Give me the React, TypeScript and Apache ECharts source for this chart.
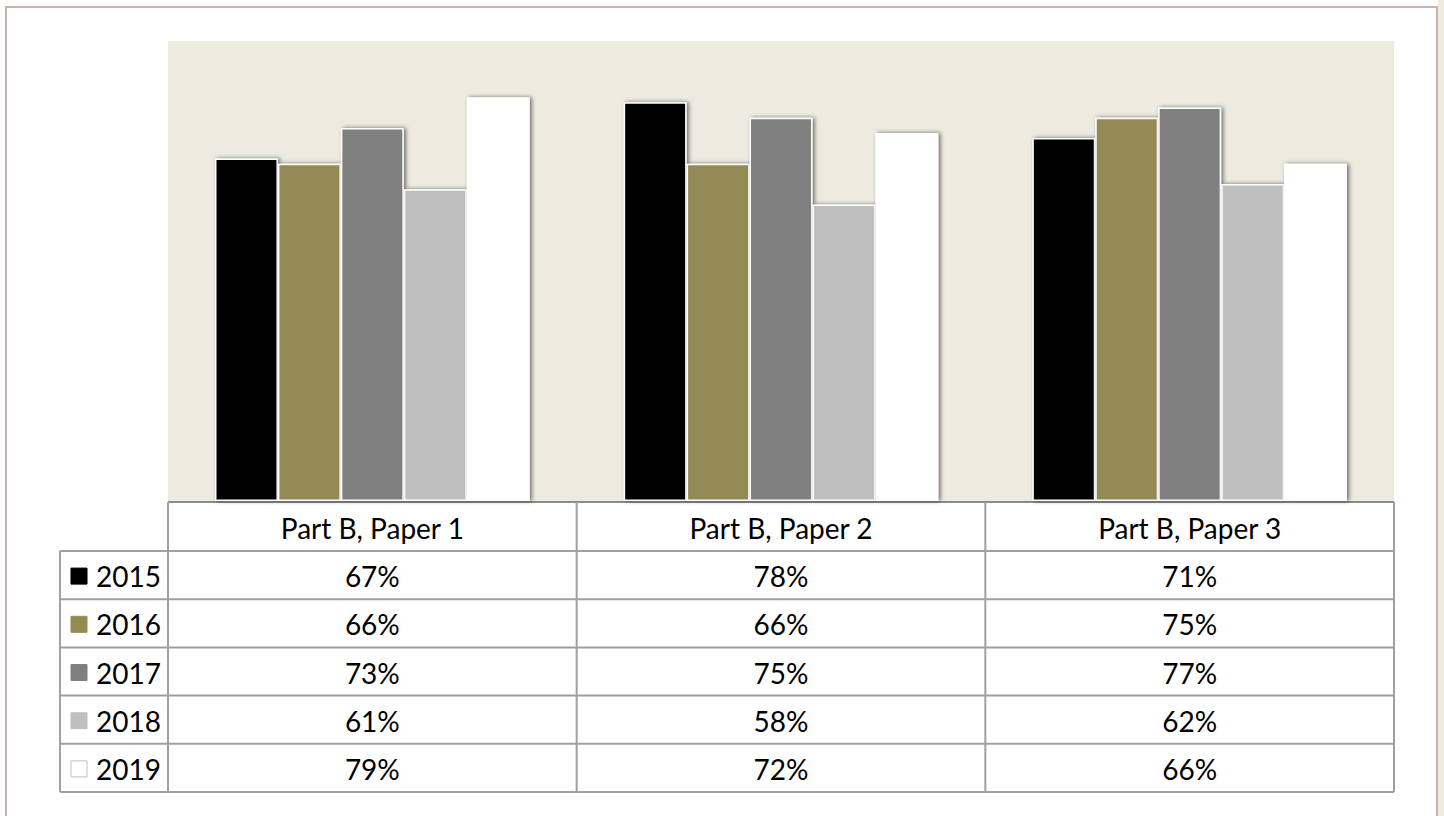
import React, { useEffect, useRef } from "react";
import * as echarts from "echarts";

const categories = ["Part B, Paper 1", "Part B, Paper 2", "Part B, Paper 3"];
const years = ["2015", "2016", "2017", "2018", "2019"];
const seriesColors = ["#000000", "#948A54", "#808080", "#BFBFBF", "#FFFFFF"];
const values2015 = [67, 78, 71];
const values2016 = [66, 66, 75];
const values2017 = [73, 75, 77];
const values2018 = [61, 58, 62];
const values2019 = [79, 72, 66];
const allValues = [values2015, values2016, values2017, values2018, values2019];

const W = 1444;
const H = 816;
const GRID_LEFT = 168;
const GRID_RIGHT = 1394;
const GRID_TOP = 41;
const GRID_BOTTOM = 501;
const TABLE_TOP = 502;
const HEADER_H = 49;
const ROW_H = 48.2;
const KEY_LEFT = 60;
const FONT = "Lato, 'Noto Sans', sans-serif";
const FS = 28;
const LINE_COLOR = "#A0A0A0";

export default function App() {
  const ref = useRef<HTMLDivElement>(null);
  useEffect(() => {
    if (!ref.current) return;
    const chart = echarts.init(ref.current, undefined, { renderer: "svg" });
    const colW = (GRID_RIGHT - GRID_LEFT) / categories.length;
    const tableBottom = TABLE_TOP + HEADER_H + ROW_H * years.length;
    const graphics: any[] = [];
    // outer frame
    graphics.push({ type: "rect", shape: { x: 1438, y: 0, width: 6, height: H }, style: { fill: "#EEEBE1" }, silent: true });
    graphics.push({ type: "line", shape: { x1: 6, y1: 7, x2: 1437, y2: 7 }, style: { stroke: "#CDB1B1", lineWidth: 2 } });
    graphics.push({ type: "line", shape: { x1: 6, y1: 6, x2: 6, y2: H }, style: { stroke: "#CDB1B1", lineWidth: 2 } });
    graphics.push({ type: "line", shape: { x1: 1437, y1: 6, x2: 1437, y2: H }, style: { stroke: "#CDB1B1", lineWidth: 2 } });
    // table horizontal lines
    graphics.push({ type: "line", shape: { x1: GRID_LEFT, y1: TABLE_TOP, x2: GRID_RIGHT, y2: TABLE_TOP }, style: { stroke: "#8C8C8C", lineWidth: 2 } });
    for (let r = 0; r <= years.length; r++) {
      const y = TABLE_TOP + HEADER_H + r * ROW_H;
      graphics.push({ type: "line", shape: { x1: KEY_LEFT, y1: y, x2: GRID_RIGHT, y2: y }, style: { stroke: LINE_COLOR, lineWidth: 2 } });
    }
    // vertical lines
    graphics.push({ type: "line", shape: { x1: KEY_LEFT, y1: TABLE_TOP + HEADER_H, x2: KEY_LEFT, y2: tableBottom }, style: { stroke: LINE_COLOR, lineWidth: 2 } });
    for (let c = 0; c <= categories.length; c++) {
      const x = GRID_LEFT + c * colW;
      graphics.push({ type: "line", shape: { x1: x, y1: TABLE_TOP, x2: x, y2: tableBottom }, style: { stroke: LINE_COLOR, lineWidth: 2 } });
    }
    // header texts
    categories.forEach((cat, c) => {
      graphics.push({
        type: "text",
        x: GRID_LEFT + (c + 0.5) * colW,
        y: TABLE_TOP + HEADER_H / 2 + 1,
        style: { text: cat, fill: "#000", font: `${FS}px ${FONT}`, align: "center", verticalAlign: "middle" },
      });
    });
    // rows
    years.forEach((yr, r) => {
      const cy = TABLE_TOP + HEADER_H + (r + 0.5) * ROW_H + 1;
      graphics.push({
        type: "rect",
        shape: { x: 71, y: cy - 8, width: 16, height: 16 },
        style: { fill: seriesColors[r], stroke: r === 4 ? "#BFBFBF" : seriesColors[r], lineWidth: 1 },
      });
      graphics.push({
        type: "text",
        x: 96,
        y: cy,
        style: { text: yr, fill: "#000", font: `${FS}px ${FONT}`, align: "left", verticalAlign: "middle" },
      });
      categories.forEach((_, c) => {
        graphics.push({
          type: "text",
          x: GRID_LEFT + (c + 0.5) * colW,
          y: cy,
          style: { text: `${allValues[r][c]}%`, fill: "#000", font: `${FS}px ${FONT}`, align: "center", verticalAlign: "middle" },
        });
      });
    });

    chart.setOption({
      animation: false,
      backgroundColor: "#FFFFFF",
      grid: {
        left: GRID_LEFT,
        top: GRID_TOP,
        width: GRID_RIGHT - GRID_LEFT,
        height: GRID_BOTTOM - GRID_TOP,
        show: true,
        backgroundColor: "#EDEAE0",
        borderWidth: 0,
      },
      xAxis: {
        type: "category",
        data: categories,
        axisLine: { show: false },
        axisTick: { show: false },
        axisLabel: { show: false },
      },
      yAxis: {
        type: "value",
        min: 0,
        max: 90,
        show: false,
        splitLine: { show: false },
      },
      series: years.map((yr, i) => ({
        name: yr,
        type: "bar",
        data: allValues[i],
        barGap: "0%",
        barCategoryGap: "23%",
        itemStyle: {
          color: seriesColors[i],
          borderColor: "#FFFFFF",
          borderWidth: 1.5,
          shadowColor: "rgba(0,0,0,0.55)",
          shadowBlur: 4,
          shadowOffsetX: 2,
          shadowOffsetY: 0,
        },
      })),
      graphic: graphics,
    });
    return () => chart.dispose();
  }, []);
  return <div ref={ref} style={{ position: "fixed", left: 0, top: 0, width: W, height: H }} />;
}
